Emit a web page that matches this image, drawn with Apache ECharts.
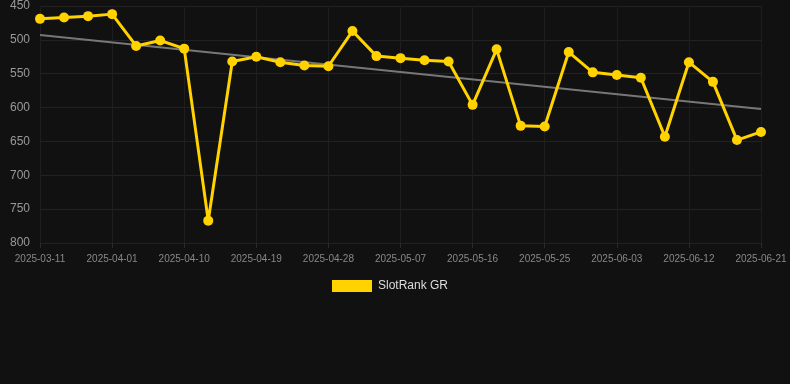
<!DOCTYPE html>
<html>
<head>
<meta charset="utf-8">
<script src="https://cdn.jsdelivr.net/npm/echarts@6/dist/echarts.min.js"></script>
<style>
html,body{margin:0;padding:0;background:#111111;}
#chart{width:790px;height:384px;}
</style>
</head>
<body>
<div id="chart"></div>
<script>
const categories = ['2025-03-11','2025-03-18','2025-03-25','2025-04-01','2025-04-04','2025-04-07','2025-04-10','2025-04-13','2025-04-16','2025-04-19','2025-04-22','2025-04-25','2025-04-28','2025-05-01','2025-05-04','2025-05-07','2025-05-10','2025-05-13','2025-05-16','2025-05-19','2025-05-22','2025-05-25','2025-05-28','2025-05-31','2025-06-03','2025-06-06','2025-06-09','2025-06-12','2025-06-15','2025-06-18','2025-06-21'];
const rankValues = [469,467,465,462,509,501,513,767,532,525,533,538,539,487,524,527,530,532,596,514,627,628,518,548,552,556,643,533,562,648,636];
const trendStart = 493;
const trendEnd = 602;
const seriesName = 'SlotRank GR';

const chart = echarts.init(document.getElementById('chart'));
chart.setOption({
  backgroundColor: '#111111',
  animation: false,
  grid: {left: 40, right: 29, top: 6, bottom: 141},
  legend: {
    bottom: 87, left: 327,
    itemWidth: 40, itemHeight: 12, itemGap: 10,
    icon: 'rect',
    textStyle: {color: '#dddddd', fontSize: 12, padding: [0, 0, 0, 1], fontFamily: 'Liberation Sans, Arial, sans-serif'},
    data: [seriesName]
  },
  xAxis: {
    type: 'category',
    data: categories,
    boundaryGap: false,
    axisLine: {show: true, lineStyle: {color: '#222222'}},
    axisTick: {show: true, interval: 2, lineStyle: {color: '#2a2a2a'}},
    axisLabel: {interval: 2, color: '#888888', fontSize: 10, margin: 11, fontFamily: 'Liberation Sans, Arial, sans-serif'},
    splitLine: {show: true, interval: 2, lineStyle: {color: '#1e1e1e', width: 1}}
  },
  yAxis: {
    type: 'value',
    inverse: true,
    min: 450, max: 800, interval: 50,
    axisLine: {show: false},
    axisTick: {show: false},
    axisLabel: {color: '#999999', fontSize: 12, margin: 10, fontFamily: 'Liberation Sans, Arial, sans-serif'},
    splitLine: {show: true, lineStyle: {color: '#222222', width: 1}}
  },
  series: [
    {
      name: 'trend',
      type: 'line',
      data: [[categories[0], trendStart], [categories[categories.length - 1], trendEnd]],
      symbol: 'none',
      lineStyle: {color: '#777777', width: 2},
      z: 1,
      silent: true
    },
    {
      name: seriesName,
      type: 'line',
      data: rankValues,
      symbol: 'circle',
      symbolSize: 10,
      itemStyle: {color: '#FFD200'},
      lineStyle: {color: '#FFD200', width: 3},
      z: 2
    }
  ]
});
</script>
</body>
</html>
